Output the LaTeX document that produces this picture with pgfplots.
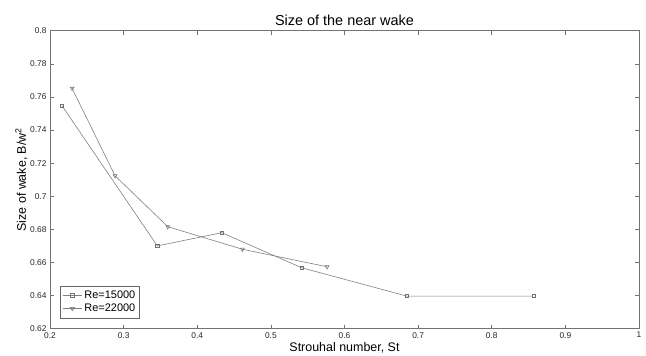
\documentclass[border=0pt]{standalone}
\usepackage{fontspec}
\setmainfont{Liberation Sans}
\usepackage{pgfplots}
\pgfplotsset{compat=1.18}
\begin{document}
\begin{tikzpicture}
\path[use as bounding box] (-50bp,-27.3bp) rectangle (596bp,328.7bp);
\begin{axis}[
  at={(0,0)}, anchor=south west,
  scale only axis, width=589bp, height=298bp,
  xmin=0.2, xmax=1, ymin=0.62, ymax=0.8,
  xtick={0.2,0.3,...,1.0}, ytick={0.62,0.64,...,0.801},
  xticklabels={0.2,0.3,0.4,0.5,0.6,0.7,0.8,0.9,1},
  yticklabels={0.62,0.64,0.66,0.68,0.7,0.72,0.74,0.76,0.78,0.8},
  tick align=inside, major tick length=4bp,
  tick style={black!55, line width=0.5pt},
  axis line style={black!55, line width=0.6pt},
  ticklabel style={font=\fontsize{8.4}{9}\selectfont, text=black!85},
  /pgf/number format/assume math mode=true,
  title={Size of the near wake},
  title style={font=\fontsize{14.5}{16}\selectfont, yshift=-4bp},
  xlabel={Strouhal number, St},
  ylabel={Size of wake, B/w\textsuperscript{2}},
  xlabel style={font=\fontsize{12.5}{14}\selectfont, yshift=2.5bp},
  ylabel style={font=\fontsize{12.5}{14}\selectfont, yshift=-4bp},
  legend style={font=\fontsize{11}{13}\selectfont, draw=black!60, line width=0.5pt,
    at={(0.0170,0.035)}, anchor=south west, inner xsep=2bp, inner ysep=3bp, row sep=0bp,
    /tikz/every even column/.append style={column sep=0bp}},
  legend image post style={xscale=1.15},
  legend cell align=left,
]
\addplot[black!50, line width=0.6pt, mark=square, mark size=1.6bp, mark options={solid, black!55}]
 coordinates {(0.2163,0.7547) (0.3458,0.6700) (0.4333,0.6780) (0.5420,0.6568) (0.6846,0.6397) (0.8567,0.6397)};
\addlegendentry{Re=15000}
\addplot[black!50, line width=0.6pt, mark=triangle, mark size=2.2bp, mark options={solid, black!55, rotate=180}]
 coordinates {(0.2300,0.7652) (0.2883,0.7124) (0.3600,0.6816) (0.4613,0.6680) (0.5764,0.6574)};
\addlegendentry{Re=22000}
\end{axis}
\end{tikzpicture}
\end{document}
